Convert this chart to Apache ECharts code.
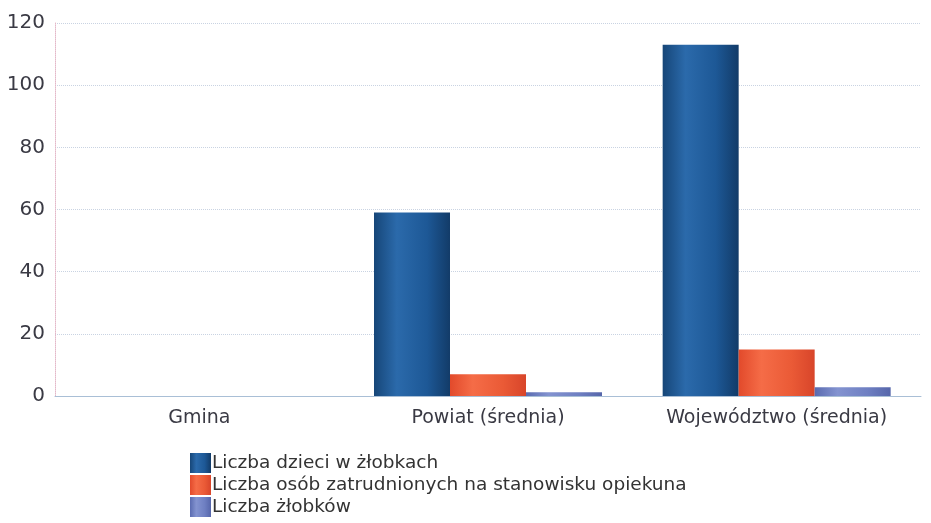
<!DOCTYPE html>
<html>
<head>
<meta charset="utf-8">
<script src="https://cdn.jsdelivr.net/npm/echarts@6/dist/echarts.min.js"></script>
<style>
  html, body { margin: 0; padding: 0; background: #fff; }
  #chart { width: 931px; height: 523px; }
</style>
</head>
<body>
<div id="chart"></div>
<script>
// dane
var categories = ['Gmina', 'Powiat (średnia)', 'Województwo (średnia)'];
var seriesNames = [
  'Liczba dzieci w żłobkach',
  'Liczba osób zatrudnionych na stanowisku opiekuna',
  'Liczba żłobków'
];
var dzieci = [0, 59, 113];
var opiekunowie = [0, 7, 15];
var zlobki = [0, 1.2, 2.8];

function shade(c1, c2, c3, c4) {
  return new echarts.graphic.LinearGradient(0, 0, 1, 0, [
    { offset: 0, color: c1 },
    { offset: 0.3, color: c2 },
    { offset: 0.7, color: c3 },
    { offset: 1, color: c4 }
  ]);
}

var chart = echarts.init(document.getElementById('chart'));
chart.setOption({
  backgroundColor: '#fff',
  animation: false,
  textStyle: { fontFamily: 'DejaVu Sans' },
  grid: { left: 55, right: 10, top: 23, bottom: 127 },
  legend: {
    orient: 'vertical',
    left: 190,
    top: 453,
    height: 68,
    padding: 0,
    itemWidth: 21,
    itemHeight: 20,
    itemGap: 2,
    icon: 'rect',
    textStyle: { color: '#333', fontSize: 18.5, padding: [0, 0, 0, -4] },
    data: seriesNames
  },
  xAxis: {
    type: 'category',
    data: categories,
    axisLine: { lineStyle: { color: '#a9bfd6', width: 1 } },
    axisTick: { show: false },
    axisLabel: { color: '#3a3a44', fontSize: 19, margin: 13 }
  },
  yAxis: {
    type: 'value',
    min: 0,
    max: 120,
    interval: 20,
    axisLine: { show: true, lineStyle: { color: '#e3b8c8', type: 'dotted' } },
    axisTick: { show: false },
    axisLabel: { color: '#3a3a44', fontSize: 20, margin: 10 },
    splitLine: { lineStyle: { color: '#c9d3e2', type: 'dotted' } }
  },
  series: [
    {
      name: seriesNames[0],
      type: 'bar',
      data: dzieci,
      barWidth: 76,
      barGap: '0%',
      itemStyle: { color: shade('#164678', '#2b6aab', '#1d5896', '#123b68') }
    },
    {
      name: seriesNames[1],
      type: 'bar',
      data: opiekunowie,
      barWidth: 76,
      barGap: '0%',
      itemStyle: { color: shade('#e24a2b', '#f56c47', '#ea5a36', '#d8452a') }
    },
    {
      name: seriesNames[2],
      type: 'bar',
      data: zlobki,
      barWidth: 76,
      barGap: '0%',
      itemStyle: { color: shade('#5a6bb0', '#8393d0', '#6e7fc2', '#5666aa') }
    }
  ]
});
</script>
</body>
</html>
